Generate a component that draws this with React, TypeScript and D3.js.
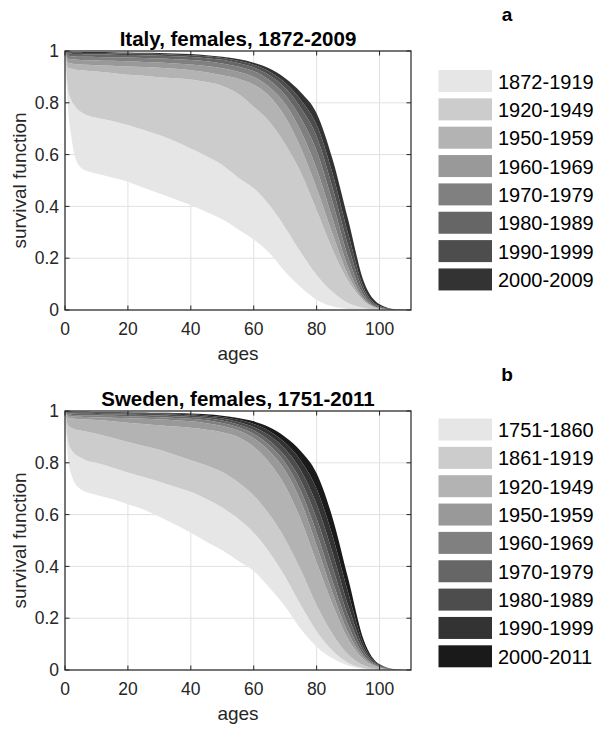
import React from 'react';
import * as d3 from 'd3';

// ages at which survival values were read
const AGES = [0, 1, 2, 3, 5, 7, 10, 15, 20, 25, 30, 35, 40, 45, 50, 55, 60, 65, 70, 75, 80, 85, 90, 95, 100, 105, 110];

// ---- Italy: boundary curves of the period bands (lowest to highest) ----
const italyB0 = [1, .77, .67, .60, .55, .537, .527, .512, .495, .472, .45, .428, .405, .378, .35, .312, .272, .22, .148, .088, .04, .014, .004, .001, 0, 0, 0];
const italyB1 = [1, .85, .81, .79, .765, .752, .742, .73, .714, .695, .676, .652, .624, .594, .56, .512, .47, .405, .318, .222, .135, .07, .027, .008, .001, 0, 0];
const italyB2 = [1, .935, .931, .929, .926, .924, .921, .915, .908, .904, .899, .895, .89, .88, .865, .835, .785, .727, .64, .53, .385, .235, .112, .035, .006, .0005, 0];
const italyB3 = [1, .955, .952, .95, .948, .947, .945, .943, .94, .938, .935, .931, .926, .918, .906, .893, .87, .825, .745, .625, .47, .295, .135, .038, .006, .0005, 0];
const italyB4 = [1, .97, .968, .967, .965, .964, .963, .962, .96, .958, .956, .952, .948, .942, .933, .92, .9, .86, .795, .69, .545, .355, .165, .043, .007, .0006, 0];
const italyB5 = [1, .982, .98, .979, .978, .978, .977, .976, .975, .973, .971, .968, .965, .96, .952, .94, .922, .887, .83, .74, .615, .42, .205, .055, .008, .0008, 0];
const italyB6 = [1, .99, .989, .988, .988, .987, .987, .986, .985, .984, .982, .98, .977, .972, .966, .954, .937, .906, .857, .78, .67, .475, .25, .07, .011, .001, 0];
const italyB7 = [1, .994, .993, .993, .993, .992, .992, .991, .99, .989, .988, .986, .984, .98, .973, .962, .947, .92, .877, .81, .715, .53, .295, .085, .015, .002, 0];
const italyB8 = [1, .997, .997, .996, .996, .996, .996, .995, .994, .993, .992, .99, .988, .984, .978, .969, .955, .932, .895, .84, .76, .585, .35, .11, .022, .003, 0];

const ITALY_PERIODS = ['1872-1919', '1920-1949', '1950-1959', '1960-1969', '1970-1979', '1980-1989', '1990-1999', '2000-2009'];
const ITALY_COLORS = ['#e6e6e6', '#cccccc', '#b3b3b3', '#999999', '#808080', '#666666', '#4d4d4d', '#333333'];

// ---- Sweden ----
const swedenC0 = [1, .81, .755, .725, .698, .686, .676, .66, .64, .62, .592, .562, .53, .495, .462, .422, .382, .318, .245, .158, .09, .045, .017, .004, .0005, 0, 0];
const swedenC1 = [1, .88, .85, .835, .82, .808, .8, .782, .763, .745, .727, .708, .688, .66, .627, .585, .53, .455, .36, .25, .15, .075, .028, .007, .001, 0, 0];
const swedenC2 = [1, .945, .935, .93, .925, .92, .912, .897, .88, .865, .85, .83, .81, .79, .764, .725, .674, .6, .505, .385, .25, .14, .06, .018, .003, .0003, 0];
const swedenC3 = [1, .975, .972, .97, .968, .967, .965, .96, .955, .95, .945, .94, .935, .928, .918, .9, .862, .8, .71, .58, .415, .255, .12, .04, .009, .001, 0];
const swedenC4 = [1, .982, .98, .979, .978, .977, .976, .974, .972, .97, .967, .964, .96, .953, .942, .925, .895, .845, .77, .65, .48, .3, .145, .048, .01, .001, 0];
const swedenC5 = [1, .987, .986, .985, .984, .984, .983, .982, .98, .978, .976, .973, .97, .964, .954, .938, .912, .868, .8, .69, .53, .345, .175, .057, .012, .0015, 0];
const swedenC6 = [1, .991, .99, .99, .989, .989, .988, .987, .986, .985, .983, .98, .977, .972, .963, .948, .925, .885, .825, .73, .585, .4, .21, .07, .014, .002, 0];
const swedenC7 = [1, .994, .994, .993, .993, .993, .992, .991, .99, .989, .988, .986, .983, .978, .971, .958, .938, .905, .852, .77, .64, .455, .25, .083, .016, .002, 0];
const swedenC8 = [1, .996, .996, .995, .995, .995, .994, .994, .993, .992, .991, .989, .987, .983, .977, .966, .95, .922, .877, .808, .7, .52, .3, .098, .019, .0025, 0];
const swedenC9 = [1, .998, .998, .997, .997, .997, .996, .996, .995, .994, .993, .992, .99, .987, .982, .973, .96, .937, .9, .845, .76, .59, .355, .115, .022, .003, 0];

const SWEDEN_PERIODS = ['1751-1860', '1861-1919', '1920-1949', '1950-1959', '1960-1969', '1970-1979', '1980-1989', '1990-1999', '2000-2011'];
const SWEDEN_COLORS = ['#e6e6e6', '#cccccc', '#b3b3b3', '#999999', '#808080', '#666666', '#4d4d4d', '#333333', '#1a1a1a'];

const X_TICKS = [0, 20, 40, 60, 80, 100];
const Y_TICKS = [0, 0.2, 0.4, 0.6, 0.8, 1];

const FONT = '"Liberation Sans", Arial, Helvetica, sans-serif';
const AXIS_COLOR = '#262626';
const GRID_COLOR = '#e1e1e1';

type PanelSpec = {
  title: string;
  tag: string;
  top: number;
  bottom: number;
  curves: number[][];
  periods: string[];
  colors: string[];
  legendTop: number;
  titleY: number;
  titleSize: number;
  tagY: number;
};

const PANELS: PanelSpec[] = [
  {
    title: 'Italy, females, 1872-2009', tag: 'a', top: 51, bottom: 310,
    curves: [italyB0, italyB1, italyB2, italyB3, italyB4, italyB5, italyB6, italyB7, italyB8],
    periods: ITALY_PERIODS, colors: ITALY_COLORS, legendTop: 70, titleY: 46, titleSize: 20.5, tagY: 21,
  },
  {
    title: 'Sweden, females, 1751-2011', tag: 'b', top: 411, bottom: 670,
    curves: [swedenC0, swedenC1, swedenC2, swedenC3, swedenC4, swedenC5, swedenC6, swedenC7, swedenC8, swedenC9],
    periods: SWEDEN_PERIODS, colors: SWEDEN_COLORS, legendTop: 418.5, titleY: 406, titleSize: 20.5, tagY: 381,
  },
];

const X0 = 65;
const X1 = 411;

function Panel({ p }: { p: PanelSpec }) {
  const x = d3.scaleLinear().domain([0, 110]).range([X0, X1]);
  const y = d3.scaleLinear().domain([0, 1]).range([p.bottom, p.top]);
  const bands = p.periods.map((_, k) => {
    const lo = p.curves[k];
    const hi = p.curves[k + 1];
    const rows = AGES.map((a, i) => ({ a, lo: lo[i], hi: hi[i] }));
    const gen = d3
      .area<{ a: number; lo: number; hi: number }>()
      .x((d) => x(d.a))
      .y0((d) => y(d.lo))
      .y1((d) => y(d.hi))
      .curve(d3.curveMonotoneX);
    return gen(rows) || '';
  });
  const tick = 4.5;
  const midX = (X0 + X1) / 2;
  const midY = (p.top + p.bottom) / 2;
  return (
    <g>
      {/* grid */}
      {X_TICKS.map((t) => (
        <line key={'gx' + t} x1={x(t)} x2={x(t)} y1={p.top} y2={p.bottom} stroke={GRID_COLOR} strokeWidth={1} />
      ))}
      {Y_TICKS.map((t) => (
        <line key={'gy' + t} x1={X0} x2={X1} y1={y(t)} y2={y(t)} stroke={GRID_COLOR} strokeWidth={1} />
      ))}
      {/* bands */}
      {bands.map((d, k) => (
        <path key={'b' + k} d={d} fill={p.colors[k]} stroke="none" />
      ))}
      {/* box */}
      <rect x={X0} y={p.top} width={X1 - X0} height={p.bottom - p.top} fill="none" stroke={AXIS_COLOR} strokeWidth={1.2} />
      {X_TICKS.map((t) => (
        <g key={'tx' + t}>
          <line x1={x(t)} x2={x(t)} y1={p.bottom} y2={p.bottom - tick} stroke={AXIS_COLOR} strokeWidth={1} />
          <line x1={x(t)} x2={x(t)} y1={p.top} y2={p.top + tick} stroke={AXIS_COLOR} strokeWidth={1} />
          <text x={x(t)} y={p.bottom + 25} textAnchor="middle" fontSize={17.5} fill={AXIS_COLOR} fontFamily={FONT}>
            {t}
          </text>
        </g>
      ))}
      {Y_TICKS.map((t) => (
        <g key={'ty' + t}>
          <line x1={X0} x2={X0 + tick} y1={y(t)} y2={y(t)} stroke={AXIS_COLOR} strokeWidth={1} />
          <line x1={X1} x2={X1 - tick} y1={y(t)} y2={y(t)} stroke={AXIS_COLOR} strokeWidth={1} />
          <text x={59} y={y(t) + 6.2} textAnchor="end" fontSize={17.5} fill={AXIS_COLOR} fontFamily={FONT}>
            {d3.format('~g')(t)}
          </text>
        </g>
      ))}
      {/* labels */}
      <text x={midX} y={p.bottom + 50} textAnchor="middle" fontSize={19} fill={AXIS_COLOR} fontFamily={FONT}>
        ages
      </text>
      <text
        transform={`translate(25.5,${midY}) rotate(-90)`}
        textAnchor="middle"
        fontSize={19}
        fill={AXIS_COLOR}
        fontFamily={FONT}
      >
        survival function
      </text>
      <text x={midX} y={p.titleY} textAnchor="middle" fontSize={p.titleSize} fontWeight="bold" fill="#000" fontFamily={FONT}>
        {p.title}
      </text>
      <text x={507} y={p.tagY} textAnchor="middle" fontSize={19} fontWeight="bold" fill="#000" fontFamily={FONT}>
        {p.tag}
      </text>
      {/* legend */}
      {p.periods.map((name, k) => {
        const top = p.legendTop + k * 28.35;
        return (
          <g key={'l' + k}>
            <rect x={438.5} y={top} width={53.5} height={22} fill={p.colors[k]} />
            <text x={498} y={top + 18.5} fontSize={20} fill="#000" fontFamily={FONT}>
              {name}
            </text>
          </g>
        );
      })}
    </g>
  );
}

export default function App() {
  return (
    <svg
      width={607}
      height={734}
      viewBox="0 0 607 734"
      style={{ position: 'absolute', left: 0, top: 0, display: 'block', background: '#fff' }}
    >
      <rect x={0} y={0} width={607} height={734} fill="#fff" />
      {PANELS.map((p) => (
        <Panel key={p.tag} p={p} />
      ))}
    </svg>
  );
}
